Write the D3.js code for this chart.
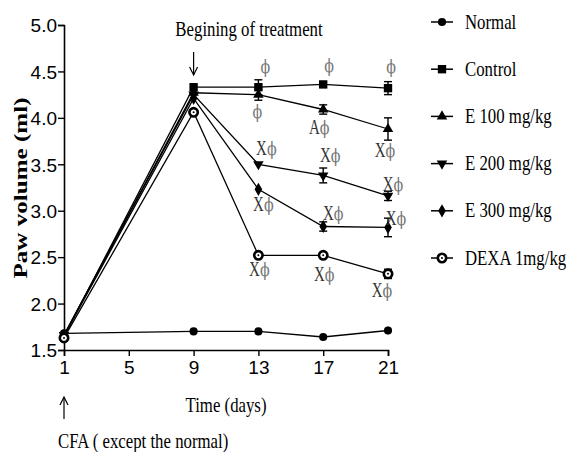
<!DOCTYPE html>
<html>
<head>
<meta charset="utf-8">
<script src="https://cdn.jsdelivr.net/npm/d3@7"></script>
<style>
  html, body { margin: 0; padding: 0; background: #fff; }
  svg { display: block; }
</style>
</head>
<body>
<svg id="chart" width="567" height="452"></svg>
<script>
// ---------------- data ----------------
const days = [1, 9, 13, 17, 21];
const xTicks = [1, 5, 9, 13, 17, 21];
const yTicks = [1.5, 2.0, 2.5, 3.0, 3.5, 4.0, 4.5, 5.0];
const seriesNames = ["Normal", "Control", "E 100 mg/kg", "E 200 mg/kg", "E 300 mg/kg", "DEXA 1mg/kg"];
const normal  = [1.68, 1.70, 1.70, 1.64, 1.71];
const control = [1.65, 4.33, 4.33, 4.36, 4.32];
const e100    = [1.66, 4.27, 4.25, 4.09, 3.88];
const e200    = [1.66, 4.25, 3.50, 3.38, 3.16];
const e300    = [1.65, 4.21, 3.23, 2.83, 2.82];
const dexa    = [1.63, 4.06, 2.52, 2.52, 2.32];
const normalErr  = [0.02, 0.01, 0.01, 0.01, 0.04];
const controlErr = [0.02, 0.03, 0.08, 0.03, 0.07];
const e100Err    = [0.02, 0.03, 0.06, 0.05, 0.12];
const e200Err    = [0.02, 0.03, 0.02, 0.08, 0.05];
const e300Err    = [0.02, 0.03, 0.03, 0.05, 0.10];
const dexaErr    = [0.02, 0.03, 0.03, 0.03, 0.05];
// significance labels: [series index, day index, letter prefix]
const sigLabels = [
  [1, 2, ""], [1, 3, ""], [1, 4, ""],
  [2, 2, ""], [2, 3, "A"], [2, 4, "X"],
  [3, 2, "X"], [3, 3, "X"], [3, 4, "X"],
  [4, 2, "X"], [4, 3, "X"], [4, 4, "X"],
  [5, 2, "X"], [5, 3, "X"], [5, 4, "X"]
];
// ---------------- layout / style ----------------
const sigOffsets = [
  [7, -14], [6, -12], [3, -15],
  [-1, 23], [-4, 24], [-3, 28],
  [8, -9], [7, -13], [5, -5],
  [5, 22], [10, -7], [8, -2],
  [1, 21], [1, 26], [-6, 23]
];
const values = [normal, control, e100, e200, e300, dexa];
const errors = [normalErr, controlErr, e100Err, e200Err, e300Err, dexaErr];

const svg = d3.select("#chart");
const x = d3.scaleLinear().domain([1, 21]).range([64, 388]);
const y = d3.scaleLinear().domain([1.5, 5]).range([350, 25]);

const SANS = "'Liberation Sans Narrow', 'Arial Narrow', sans-serif";
const SERIF = "'Liberation Serif', 'Times New Roman', serif";
const SX = 0.84;

function serifText(g, tx, ty, str, opts = {}) {
  const t = g.append("text")
    .attr("transform", `translate(${tx},${ty}) scale(${opts.sx || SX},1)`)
    .attr("font-family", SERIF)
    .attr("font-size", opts.size || 20)
    .attr("text-anchor", opts.anchor || "start")
    .attr("fill", opts.fill || "#000")
    .text(str);
  return t;
}

// axes
const yAxis = d3.axisLeft(y).tickValues(yTicks).tickFormat(d3.format(".1f")).tickSize(6).tickPadding(1);
const xAxis = d3.axisBottom(x).tickValues(xTicks).tickFormat(d3.format("d")).tickSize(6).tickPadding(2);

const gy = svg.append("g").attr("transform", `translate(${x(1)},0)`).call(yAxis);
const gx = svg.append("g").attr("transform", `translate(0,${y(1.5)})`).call(xAxis);
[gx, gy].forEach(g => {
  g.select(".domain").attr("stroke", "#000").attr("stroke-width", 1.6);
  g.selectAll(".tick line").attr("stroke", "#000").attr("stroke-width", 1.4);
  g.selectAll(".tick text").attr("font-family", SANS).attr("font-size", 19).attr("fill", "#000");
});
gy.selectAll(".tick text").attr("dy", "0.36em");
gx.selectAll(".tick text").attr("dy", "0.85em");

// symbols
function drawSymbol(g, idx, cx, cy) {
  const s = g.append("g").attr("transform", `translate(${cx},${cy})`);
  const path = (type, size, rot) => s.append("path")
    .attr("d", d3.symbol().type(type).size(size)())
    .attr("transform", rot ? `rotate(${rot})` : null)
    .attr("fill", "#000");
  if (idx === 0) path(d3.symbolCircle, 52);
  else if (idx === 1) path(d3.symbolSquare, 70);
  else if (idx === 2) path(d3.symbolTriangle, 48);
  else if (idx === 3) path(d3.symbolTriangle, 48, 180);
  else if (idx === 4) path(d3.symbolDiamond, 50);
  else {
    s.append("circle").attr("r", 4.2).attr("fill", "#fff").attr("stroke", "#000").attr("stroke-width", 2.6);
    s.append("circle").attr("r", 1).attr("fill", "#000");
  }
}

const line = d3.line().x((d, i) => x(days[i])).y(d => y(d));
const plot = svg.append("g");

values.forEach((vals, si) => {
  plot.append("path").datum(vals)
    .attr("d", line)
    .attr("fill", "none")
    .attr("stroke", "#000")
    .attr("stroke-width", 1.3);
});
values.forEach((vals, si) => {
  vals.forEach((v, i) => {
    const e = errors[si][i];
    const cx = x(days[i]);
    const g = plot.append("g").attr("stroke", "#000").attr("stroke-width", 1.4);
    g.append("line").attr("x1", cx).attr("x2", cx).attr("y1", y(v - e)).attr("y2", y(v + e));
    if (e > 0.04) {
      g.append("line").attr("x1", cx - 4).attr("x2", cx + 4).attr("y1", y(v + e)).attr("y2", y(v + e));
      g.append("line").attr("x1", cx - 4).attr("x2", cx + 4).attr("y1", y(v - e)).attr("y2", y(v - e));
    }
  });
});
values.forEach((vals, si) => {
  vals.forEach((v, i) => drawSymbol(plot, si, x(days[i]), y(v)));
});

// significance labels
sigLabels.forEach(([si, di, prefix], k) => {
  const [dx, dy] = sigOffsets[k];
  const t = serifText(svg, x(days[di]) + dx, y(values[si][di]) + dy, "", { anchor: "middle", size: 20, sx: 0.75 });
  if (prefix) t.append("tspan").attr("fill", "#333").text(prefix);
  t.append("tspan").attr("fill", "#777").attr("font-family", "'DejaVu Serif', serif").attr("font-size", 19).text("ϕ");
});

// legend
const legend = svg.append("g");
seriesNames.forEach((name, i) => {
  const ly = 22 + i * 47.2;
  legend.append("line").attr("x1", 431).attr("x2", 453).attr("y1", ly).attr("y2", ly)
    .attr("stroke", "#000").attr("stroke-width", 1.5);
  drawSymbol(legend, i, 442, ly);
  serifText(legend, 465, ly + 6.5, name);
});

// annotations
serifText(svg, 249, 36, "Begining of treatment", { anchor: "middle" });
function arrow(xp, y1, y2) {
  const dir = y2 > y1 ? 1 : -1;
  svg.append("line").attr("x1", xp).attr("x2", xp).attr("y1", y1).attr("y2", y2)
    .attr("stroke", "#000").attr("stroke-width", 1.2);
  svg.append("path").attr("d", `M${xp - 4},${y2 - dir * 8}L${xp},${y2}L${xp + 4},${y2 - dir * 8}`)
    .attr("fill", "none").attr("stroke", "#000").attr("stroke-width", 1.2);
}
arrow(x(9), 52, 75);
arrow(x(1), 419, 397);

serifText(svg, 226, 412, "Time  (days)", { anchor: "middle" });
serifText(svg, 58, 448, "CFA ( except the normal)");

svg.append("text")
  .attr("transform", `translate(27,188) rotate(-90) scale(1.32,1)`)
  .attr("font-family", SERIF)
  .attr("font-weight", "bold")
  .attr("font-size", 19)
  .attr("text-anchor", "middle")
  .text("Paw volume (ml)");
</script>
</body>
</html>
